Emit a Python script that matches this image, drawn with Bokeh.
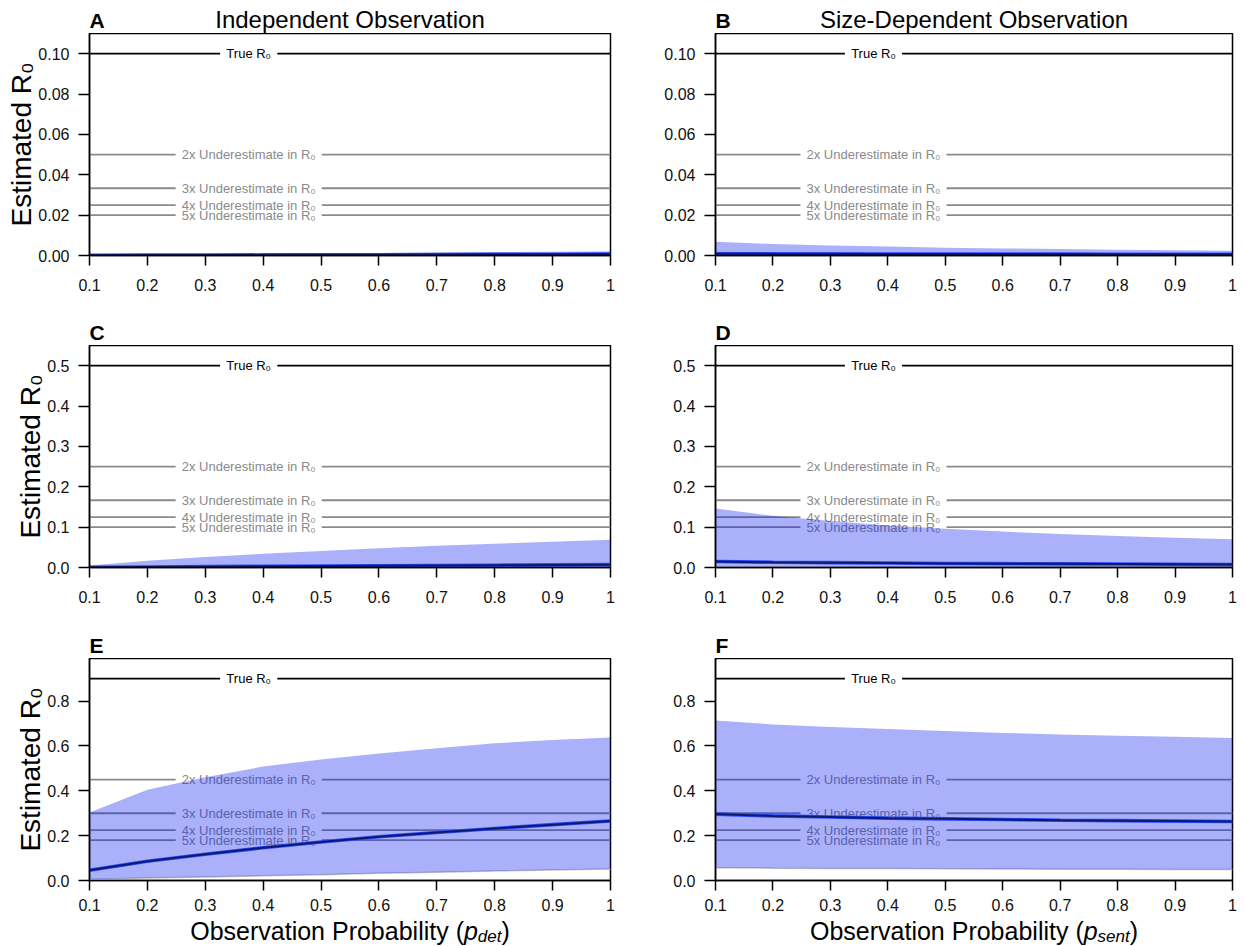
from bokeh.plotting import figure
from bokeh.layouts import column, row
from bokeh.models import Range1d, FixedTicker
from bokeh.core.properties import value
from bokeh.embed import file_html
from bokeh.resources import INLINE

# ---------------- data ----------------
obs_prob = [0.1, 0.2, 0.3, 0.4, 0.5, 0.6, 0.7, 0.8, 0.9, 1.0]
true_r0 = [0.1, 0.5, 0.9]
underestimate_factors = [2, 3, 4, 5]
column_titles = ["Independent Observation", "Size-Dependent Observation"]
panel_letters = [["A", "B"], ["C", "D"], ["E", "F"]]

x_ticks = [0.1, 0.2, 0.3, 0.4, 0.5, 0.6, 0.7, 0.8, 0.9, 1.0]
x_tick_labels = ["0.1", "0.2", "0.3", "0.4", "0.5", "0.6", "0.7", "0.8", "0.9", "1"]
y_ticks = [
    [0.0, 0.02, 0.04, 0.06, 0.08, 0.10],
    [0.0, 0.1, 0.2, 0.3, 0.4, 0.5],
    [0.0, 0.2, 0.4, 0.6, 0.8],
]
y_tick_labels = [
    ["0.00", "0.02", "0.04", "0.06", "0.08", "0.10"],
    ["0.0", "0.1", "0.2", "0.3", "0.4", "0.5"],
    ["0.0", "0.2", "0.4", "0.6", "0.8"],
]
y_label_text = "Estimated R\u2080"
x_label_text = "Observation Probability"
x_label_symbol = "p"
x_label_subscripts = ["det", "sent"]

# Panel A: independent observation, true R0 = 0.1
a_lower = [0.0, 0.0, 0.0, 0.0, 0.0001, 0.0001, 0.0001, 0.0001, 0.0001, 0.0002]
a_median = [0.0001, 0.0002, 0.0002, 0.0003, 0.0004, 0.0004, 0.0005, 0.0006, 0.0006, 0.0007]
a_upper = [0.0002, 0.0004, 0.0006, 0.0008, 0.0011, 0.0013, 0.0015, 0.0017, 0.0019, 0.0021]
# Panel B: size-dependent observation, true R0 = 0.1
b_lower = [0.0002, 0.0002, 0.0002, 0.0002, 0.0001, 0.0001, 0.0001, 0.0001, 0.0001, 0.0001]
b_median = [0.0009, 0.0008, 0.0008, 0.0007, 0.0007, 0.0007, 0.0007, 0.0006, 0.0006, 0.0006]
b_upper = [0.0068, 0.0057, 0.0050, 0.0044, 0.0039, 0.0035, 0.0032, 0.0029, 0.0026, 0.0024]
# Panel C: independent observation, true R0 = 0.5
c_lower = [0.0, 0.0, 0.0001, 0.0001, 0.0002, 0.0002, 0.0003, 0.0003, 0.0004, 0.0004]
c_median = [0.0006, 0.0014, 0.0021, 0.0029, 0.0036, 0.0043, 0.0050, 0.0057, 0.0064, 0.0071]
c_upper = [0.005, 0.017, 0.026, 0.034, 0.041, 0.048, 0.054, 0.059, 0.064, 0.069]
# Panel D: size-dependent observation, true R0 = 0.5
d_lower = [0.002, 0.0018, 0.0016, 0.0015, 0.0014, 0.0013, 0.0012, 0.0012, 0.0011, 0.0011]
d_median = [0.015, 0.013, 0.012, 0.011, 0.010, 0.0095, 0.009, 0.0085, 0.008, 0.0075]
d_upper = [0.146, 0.128, 0.115, 0.104, 0.096, 0.089, 0.083, 0.078, 0.074, 0.070]
# Panel E: independent observation, true R0 = 0.9
e_lower = [0.006, 0.011, 0.016, 0.021, 0.026, 0.032, 0.037, 0.042, 0.047, 0.051]
e_median = [0.046, 0.086, 0.117, 0.146, 0.172, 0.195, 0.214, 0.232, 0.249, 0.265]
e_upper = [0.303, 0.405, 0.460, 0.508, 0.540, 0.566, 0.590, 0.612, 0.627, 0.638]
# Panel F: size-dependent observation, true R0 = 0.9
f_lower = [0.057, 0.055, 0.054, 0.053, 0.052, 0.051, 0.050, 0.050, 0.049, 0.049]
f_median = [0.296, 0.288, 0.283, 0.278, 0.275, 0.272, 0.269, 0.267, 0.265, 0.263]
f_upper = [0.713, 0.696, 0.685, 0.676, 0.667, 0.658, 0.651, 0.646, 0.641, 0.636]

bands = [
    [(a_lower, a_median, a_upper), (b_lower, b_median, b_upper)],
    [(c_lower, c_median, c_upper), (d_lower, d_median, d_upper)],
    [(e_lower, e_median, e_upper), (f_lower, f_median, f_upper)],
]

# ---------------- styling / layout ----------------
FONT = "Liberation Sans"
FRAME_W = [521, 517]
FRAME_H = 222
BORDER_L = [89, 81]
BORDER_R = [24, 12]
PANEL_B = [64, 65, 36]          # bottom border of the panel rows
XTICK_STANDOFF = [13, 13, 8]
STRIP_H = [33, 26, 26]          # text strips above each panel row
XLAB_H = 30                     # strip holding the x axis labels
GRAY = "#8a8a8a"
BAND_COLOR = "#0012F0"
LABEL_X = 0.375
LABEL_PX = 13

# Arial/Helvetica advance widths (1/1000 em), used to lay out texts
HELV = {' ': 278, '(': 333, ')': 333, 'O': 778, 'P': 667, 'R': 722, 'T': 611, 'U': 722,
        'a': 556, 'b': 556, 'c': 500, 'd': 556, 'e': 556, 'i': 222, 'l': 222, 'm': 833,
        'n': 556, 'o': 556, 'p': 556, 'r': 333, 's': 500, 't': 278, 'u': 556, 'v': 500,
        'x': 500, 'y': 500, '2': 556, '3': 556, '4': 556, '5': 556, '\u2080': 420}


def tw(s, px):
    return sum(HELV.get(ch, 556) for ch in s) * px / 1000.0


def base_fig(c, frame_h, y_range, border_b, with_axes):
    kw = {}
    if not with_axes:
        kw = dict(x_axis_type=None, y_axis_type=None)
    p = figure(frame_width=FRAME_W[c], frame_height=frame_h,
               x_range=Range1d(obs_prob[0], obs_prob[-1]), y_range=y_range,
               output_backend="svg", toolbar_location=None,
               min_border_left=BORDER_L[c], min_border_right=BORDER_R[c],
               min_border_top=0, min_border_bottom=border_b,
               background_fill_color="white", border_fill_color="white", **kw)
    return p


def make_strip(r, c):
    h = STRIP_H[r]
    s = base_fig(c, h, Range1d(0, h), 0, False)
    s.outline_line_color = None
    xmid = (obs_prob[0] + obs_prob[-1]) / 2
    s.text(x=[obs_prob[0]], y=[13], text=[panel_letters[r][c]], text_align="left",
           text_baseline="middle", text_font=value(FONT), text_font_size=value("21px"),
           text_font_style="bold", text_color="black")
    if r == 0:
        s.text(x=[xmid], y=[14], text=[column_titles[c]], text_align="center",
               text_baseline="middle", text_font=value(FONT),
               text_font_size=value("24px"), text_color="black")
    return s


def make_xlabel_strip(c):
    s = base_fig(c, XLAB_H, Range1d(0, XLAB_H), 0, False)
    s.outline_line_color = None
    xmid = (obs_prob[0] + obs_prob[-1]) / 2
    big, small = 25, 17
    pieces = [
        (x_label_text + " (", big, "normal", 15.5),
        (x_label_symbol, big, "italic", 15.5),
        (x_label_subscripts[c], small, "italic", 10),
        (")", big, "normal", 15.5),
    ]
    total = sum(tw(t, sz) for t, sz, _, _ in pieces)
    cur = -total / 2
    for t, sz, style, yy in pieces:
        s.text(x=[xmid], y=[yy], text=[t], x_offset=cur, text_align="left",
               text_baseline="middle", text_font=value(FONT),
               text_font_size=value(f"{sz}px"), text_font_style=style,
               text_color="black")
        cur += tw(t, sz)
    return s


def make_panel(r, c):
    T = true_r0[r]
    ytop = T * 1.1
    p = base_fig(c, FRAME_H, Range1d(0, ytop), PANEL_B[r], True)
    p.xgrid.visible = False
    p.ygrid.visible = False
    p.outline_line_color = "black"
    p.outline_line_width = 1.5
    p.outline_line_alpha = 1.0

    for ax, ticks, labels, tick_out, standoff in (
        (p.xaxis[0], x_ticks, x_tick_labels, 10, XTICK_STANDOFF[r]),
        (p.yaxis[0], y_ticks[r], y_tick_labels[r], 11, 9),
    ):
        ax.ticker = FixedTicker(ticks=ticks)
        ax.major_label_overrides = {float(t): l for t, l in zip(ticks, labels)}
        ax.axis_line_width = 1.5
        ax.axis_line_color = "black"
        ax.major_tick_line_width = 1.5
        ax.major_tick_line_color = "black"
        ax.major_tick_out = tick_out
        ax.major_tick_in = 0
        ax.minor_tick_out = 0
        ax.minor_tick_in = 0
        ax.major_label_standoff = standoff
        ax.major_label_text_font = FONT
        ax.major_label_text_font_size = "16px"
        ax.major_label_text_color = "#111111"

    if c == 0:
        p.yaxis[0].axis_label = y_label_text
        p.yaxis[0].axis_label_text_font = FONT
        p.yaxis[0].axis_label_text_font_size = "28px"
        p.yaxis[0].axis_label_text_font_style = "normal"
        p.yaxis[0].axis_label_text_color = "black"
        p.yaxis[0].axis_label_standoff = -2

    # reference lines with white-backed labels, all below the band
    levels = [T] + [T / k for k in underestimate_factors]
    texts = ["True R\u2080"] + [f"{k}x Underestimate in R\u2080" for k in underestimate_factors]
    colors = ["black"] + [GRAY] * len(underestimate_factors)
    n = len(levels)
    p.segment(x0=[obs_prob[0]] * n, y0=levels, x1=[obs_prob[-1]] * n, y1=levels,
              line_color=colors, line_width=1.8, level="underlay")
    p.rect(x=[LABEL_X] * n, y=levels, width=[tw(t, LABEL_PX) + 12 for t in texts],
           height=[8] * n, width_units="screen", height_units="screen",
           fill_color="white", line_color=None, level="underlay")
    p.text(x=[LABEL_X] * n, y=levels, text=texts, text_color=colors,
           text_font=value(FONT), text_font_size=value(f"{LABEL_PX}px"),
           text_align="center", text_baseline="middle", level="underlay")

    lower, median, upper = bands[r][c]
    p.line(obs_prob, lower, line_color="#c4c4c4", line_width=1.5)
    p.varea(x=obs_prob, y1=lower, y2=upper, fill_color=BAND_COLOR, fill_alpha=0.333)
    p.line(obs_prob, median, line_color="#2b4cff", line_width=3.6)
    p.line(obs_prob, median, line_color="#0d1a6e", line_width=2.0)
    return p


blocks = []
for r in range(3):
    blocks.append(row(make_strip(r, 0), make_strip(r, 1)))
    blocks.append(row(make_panel(r, 0), make_panel(r, 1)))
blocks.append(row(make_xlabel_strip(0), make_xlabel_strip(1)))
layout = column(*blocks)

open("out.html", "w").write(file_html(layout, INLINE))
